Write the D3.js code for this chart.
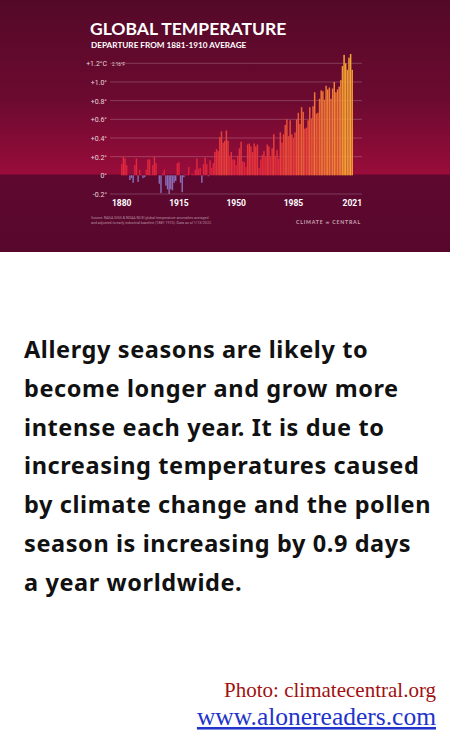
<!DOCTYPE html>
<html><head><meta charset="utf-8">
<script src="https://cdn.jsdelivr.net/npm/d3@7"></script>
<style>body{margin:0;background:#fff;}svg{display:block;}</style>
</head><body>
<script>
// Anomaly vs 1881-1910 average, 1880..2021
var startYear = 1880;
var anomalies = [
 0.12,0.20,0.18,0.11,0.00,-0.05,-0.03,-0.08,0.11,0.18,
 -0.07,0.06,0.01,-0.03,-0.02,0.06,0.17,0.17,0.01,0.11,
 0.20,0.13,0.00,-0.09,-0.19,0.02,0.06,-0.11,-0.15,-0.20,
 -0.15,-0.16,-0.08,-0.06,0.13,0.14,-0.08,-0.18,-0.02,0.01,
 0.01,0.09,0.00,0.02,0.01,0.06,0.18,0.07,0.08,-0.08,
 0.12,0.19,0.12,-0.01,0.16,0.08,0.13,0.25,0.28,0.26,
 0.41,0.47,0.35,0.37,0.48,0.37,0.21,0.25,0.17,0.17,
 0.11,0.21,0.29,0.36,0.15,0.14,0.09,0.33,0.34,0.31,
 0.25,0.34,0.31,0.33,0.08,0.17,0.22,0.26,0.20,0.33,
 0.31,0.20,0.29,0.44,0.21,0.27,0.18,0.46,0.35,0.44,
 0.54,0.60,0.42,0.59,0.44,0.40,0.46,0.60,0.67,0.55,
 0.73,0.68,0.50,0.51,0.59,0.73,0.61,0.74,0.89,0.66,
 0.67,0.82,0.91,0.90,0.81,0.96,0.92,0.94,0.82,0.93,
 1.00,0.89,0.92,0.95,1.02,1.17,1.29,1.20,1.13,1.26,
 1.30,1.13
];
var yTicks = [-0.2, 0, 0.2, 0.4, 0.6, 0.8, 1.0, 1.2];
var yTickLabels = ["-0.2°","0°","+0.2°","+0.4°","+0.6°","+0.8°","+1.0°","+1.2°C"];
var xTicks = [1880, 1915, 1950, 1985, 2021];
var paragraph = [
 "Allergy seasons are likely to",
 "become longer and grow more",
 "intense each year. It is due to",
 "increasing temperatures caused",
 "by climate change and the pollen",
 "season is increasing by 0.9 days",
 "a year worldwide."
];

var W = 450, H = 750;
var svg = d3.select("body").append("svg").attr("width", W).attr("height", H);
var defs = svg.append("defs");
var bg = defs.append("linearGradient").attr("id","bg").attr("x1",0).attr("x2",0).attr("y1",0).attr("y2",1);
bg.append("stop").attr("offset","0%").attr("stop-color","#540928");
bg.append("stop").attr("offset","40%").attr("stop-color","#6c0a30");
bg.append("stop").attr("offset","69%").attr("stop-color","#990c3a");
bg.append("stop").attr("offset","69.5%").attr("stop-color","#5e0830");
bg.append("stop").attr("offset","100%").attr("stop-color","#58072c");
svg.append("rect").attr("width",W).attr("height",252).attr("fill","url(#bg)");

var years = anomalies.map(function(d,i){ return startYear + i; });
var x = d3.scaleBand().domain(years).range([121, 353]).paddingInner(0.1);
var y = d3.scaleLinear().domain([-0.2, 1.2]).range([194, 63.3]);
var col = d3.scaleLinear().domain([0, 0.5, 1.3]).range(["#d81a40","#e8453a","#f4a932"]);

var g = svg.append("g");
g.selectAll(".grid").data(yTicks).enter().append("line")
 .attr("x1",110).attr("x2",362).attr("y1",function(d){return y(d);}).attr("y2",function(d){return y(d);})
 .attr("stroke", function(d){ return d===0 ? "none" : "rgba(255,255,255,0.35)"; }).attr("stroke-width",0.6);
g.selectAll(".yl").data(yTicks).enter().append("text")
 .attr("x",107).attr("y",function(d){return y(d)+3;}).attr("text-anchor","end")
 .attr("font-family","Roboto").attr("font-size",7).attr("fill","#e8d8dc")
 .text(function(d,i){return yTickLabels[i];});
g.append("text").attr("x",104).attr("y",y(1.2)+3).attr("font-family","Roboto").attr("font-size",4.5)
 .attr("fill","#e8d8dc").text("2.16°F").attr("dx",8);

g.selectAll(".bar").data(anomalies).enter().append("rect")
 .attr("x",function(d,i){return x(years[i]);}).attr("width",x.bandwidth())
 .attr("y",function(d){return y(Math.max(0,d));})
 .attr("height",function(d){return Math.abs(y(d)-y(0));})
 .attr("fill",function(d){return d<0 ? "#8b6cb4" : col(d);});

g.selectAll(".xl").data(xTicks).enter().append("text")
 .attr("x",function(d){return x(d)+x.bandwidth()/2;}).attr("y",206).attr("text-anchor","middle")
 .attr("font-family","Roboto").attr("font-weight","bold").attr("font-size",8.5).attr("fill","#fff")
 .text(function(d){return d;});

svg.append("text").attr("x",90).attr("y",35).attr("font-family","Lato").attr("font-weight","bold").attr("font-size",17.5)
 .attr("fill","#fff").text("GLOBAL TEMPERATURE");
svg.append("text").attr("x",91).attr("y",48).attr("font-family","Lato").attr("font-weight","bold").attr("font-size",8.2)
 .attr("fill","#fff").text("DEPARTURE FROM 1881-1910 AVERAGE");
svg.append("text").attr("x",91).attr("y",219).attr("font-family","Roboto").attr("font-size",3.6)
 .attr("fill","#b890a0").text("Source: NASA GISS & NOAA NCEI global temperature anomalies averaged");
svg.append("text").attr("x",91).attr("y",223.5).attr("font-family","Roboto").attr("font-size",3.6)
 .attr("fill","#b890a0").text("and adjusted to early industrial baseline (1881-1910). Data as of 1/13/2022.");
svg.append("text").attr("x",361).attr("y",224).attr("text-anchor","end").attr("font-family","Lato")
 .attr("font-weight","bold").attr("font-size",5.2).attr("letter-spacing",0.8).attr("fill","#c8a8b4")
 .text("CLIMATE \u221E CENTRAL");

svg.selectAll(".p").data(paragraph).enter().append("text")
 .attr("x",24).attr("y",function(d,i){return 358 + i*38.8;})
 .attr("font-family","Noto Sans").attr("font-weight","bold").attr("font-size",23.5)
 .attr("letter-spacing",0.6).attr("fill","#111")
 .text(function(d){return d;});

svg.append("text").attr("x",436).attr("y",697).attr("text-anchor","end").attr("font-family","Liberation Serif")
 .attr("font-size",21).attr("fill","#a01010").text("Photo: climatecentral.org");
svg.append("text").attr("x",436).attr("y",725).attr("text-anchor","end").attr("font-family","Liberation Serif")
 .attr("font-size",25.5).attr("fill","#2233cc").attr("text-decoration","underline").text("www.alonereaders.com");
</script>
</body></html>
